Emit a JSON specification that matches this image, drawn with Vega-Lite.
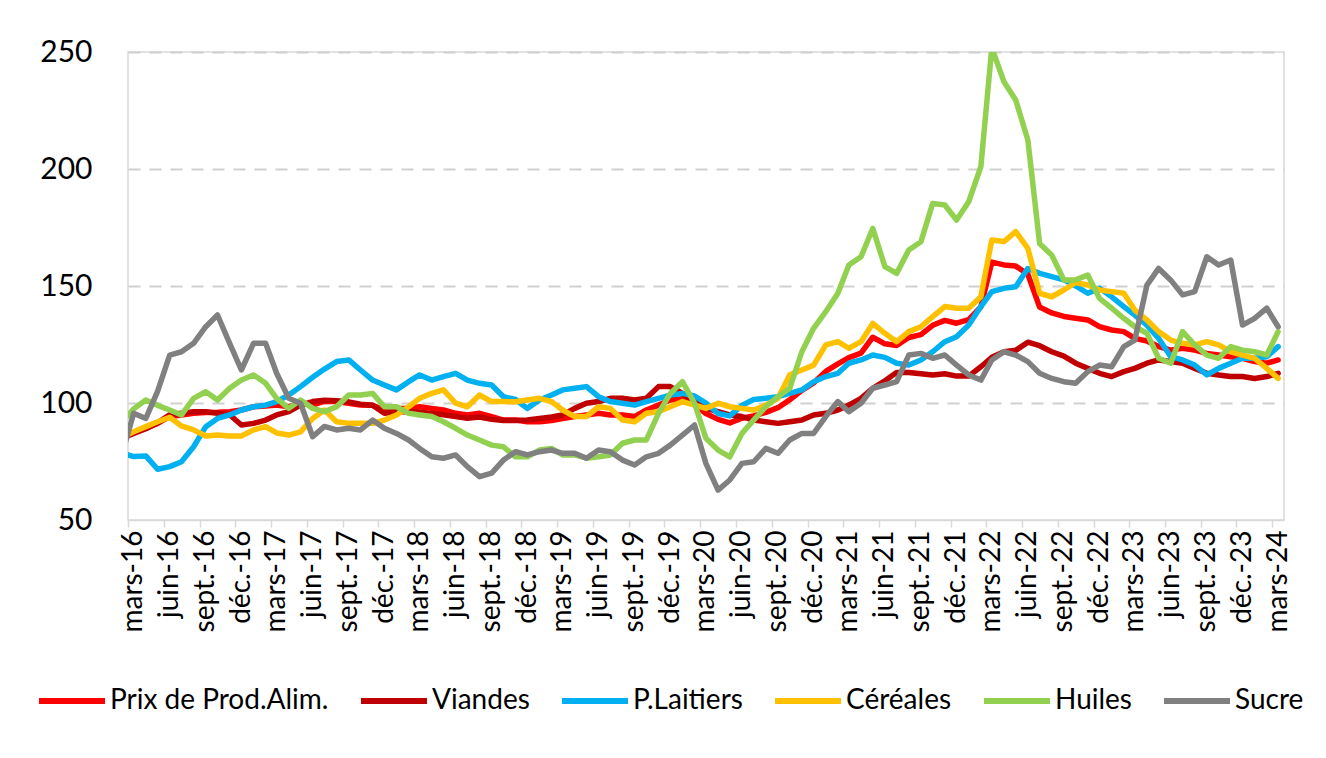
{
  "$schema": "https://vega.github.io/schema/vega-lite/v6.json",
  "width": 1156,
  "height": 468,
  "autosize": {"type": "none"},
  "padding": {"left": 128, "top": 52, "right": 42, "bottom": 238},
  "background": "white",
  "config": {
    "font": "Lato",
    "view": {"stroke": "#d9d9d9", "strokeWidth": 1.5},
    "axis": {"labelFont": "Lato", "labelColor": "#000000"},
    "legend": {"labelFont": "Lato"}
  },
  "data": {
    "values": [
      {"d": "2016-02-01", "prix": 85.3, "viandes": 85, "laitiers": 78.5, "cereales": 85.5, "huiles": 92, "sucre": 78.5},
      {"d": "2016-03-01", "prix": 87.3, "viandes": 87, "laitiers": 77.1, "cereales": 87.7, "huiles": 97.5, "sucre": 95.6},
      {"d": "2016-04-01", "prix": 89.2, "viandes": 89, "laitiers": 77.4, "cereales": 89.9, "huiles": 101.3, "sucre": 93.4},
      {"d": "2016-05-01", "prix": 91.3, "viandes": 91.5, "laitiers": 71.7, "cereales": 92, "huiles": 99, "sucre": 105},
      {"d": "2016-06-01", "prix": 94.2, "viandes": 95, "laitiers": 72.8, "cereales": 93.9, "huiles": 97, "sucre": 120.5},
      {"d": "2016-07-01", "prix": 94.9, "viandes": 95.6, "laitiers": 74.9, "cereales": 90.2, "huiles": 94.9, "sucre": 121.9},
      {"d": "2016-08-01", "prix": 95.6, "viandes": 96.3, "laitiers": 81.3, "cereales": 88.5, "huiles": 102, "sucre": 125.5},
      {"d": "2016-09-01", "prix": 95.9, "viandes": 96.3, "laitiers": 89.9, "cereales": 85.9, "huiles": 104.8, "sucre": 132.6},
      {"d": "2016-10-01", "prix": 96, "viandes": 95.6, "laitiers": 93.4, "cereales": 86.3, "huiles": 101.3, "sucre": 137.6},
      {"d": "2016-11-01", "prix": 96.3, "viandes": 95, "laitiers": 94.9, "cereales": 85.9, "huiles": 106.3, "sucre": 125.5},
      {"d": "2016-12-01", "prix": 97, "viandes": 90.6, "laitiers": 97, "cereales": 85.9, "huiles": 109.8, "sucre": 114.1},
      {"d": "2017-01-01", "prix": 98.4, "viandes": 91.3, "laitiers": 98.4, "cereales": 88.5, "huiles": 112, "sucre": 125.5},
      {"d": "2017-02-01", "prix": 98.7, "viandes": 92.7, "laitiers": 99.1, "cereales": 89.9, "huiles": 108.4, "sucre": 125.5},
      {"d": "2017-03-01", "prix": 99.1, "viandes": 94.9, "laitiers": 100.6, "cereales": 87.2, "huiles": 102, "sucre": 112.7},
      {"d": "2017-04-01", "prix": 98.4, "viandes": 96.3, "laitiers": 103.4, "cereales": 86.3, "huiles": 97.7, "sucre": 102},
      {"d": "2017-05-01", "prix": 99.9, "viandes": 99.1, "laitiers": 107, "cereales": 87.7, "huiles": 101.3, "sucre": 99.9},
      {"d": "2017-06-01", "prix": 99.1, "viandes": 100.6, "laitiers": 111, "cereales": 93.4, "huiles": 97.7, "sucre": 85.6},
      {"d": "2017-07-01", "prix": 100.8, "viandes": 101.2, "laitiers": 114.5, "cereales": 97, "huiles": 96.3, "sucre": 90},
      {"d": "2017-08-01", "prix": 100.6, "viandes": 101, "laitiers": 117.7, "cereales": 92, "huiles": 98.4, "sucre": 88.5},
      {"d": "2017-09-01", "prix": 99.9, "viandes": 100.5, "laitiers": 118.4, "cereales": 91.3, "huiles": 103.4, "sucre": 89.2},
      {"d": "2017-10-01", "prix": 99.1, "viandes": 99.5, "laitiers": 114.1, "cereales": 91.3, "huiles": 103.4, "sucre": 88.5},
      {"d": "2017-11-01", "prix": 99, "viandes": 99, "laitiers": 109.8, "cereales": 91.3, "huiles": 104.1, "sucre": 92.7},
      {"d": "2017-12-01", "prix": 97, "viandes": 95.6, "laitiers": 107.7, "cereales": 92.7, "huiles": 98.4, "sucre": 89.2},
      {"d": "2018-01-01", "prix": 97.7, "viandes": 96.3, "laitiers": 105.6, "cereales": 94.9, "huiles": 98.4, "sucre": 87},
      {"d": "2018-02-01", "prix": 97.7, "viandes": 96.3, "laitiers": 109.1, "cereales": 98.4, "huiles": 95.6, "sucre": 84.2},
      {"d": "2018-03-01", "prix": 98.4, "viandes": 96, "laitiers": 112, "cereales": 102, "huiles": 94.9, "sucre": 80.6},
      {"d": "2018-04-01", "prix": 97.7, "viandes": 95.5, "laitiers": 109.8, "cereales": 104.1, "huiles": 94.2, "sucre": 77},
      {"d": "2018-05-01", "prix": 97, "viandes": 95, "laitiers": 111.3, "cereales": 105.6, "huiles": 92, "sucre": 76.4},
      {"d": "2018-06-01", "prix": 95.6, "viandes": 94.2, "laitiers": 112.7, "cereales": 99.9, "huiles": 89.2, "sucre": 77.8},
      {"d": "2018-07-01", "prix": 94.9, "viandes": 93.5, "laitiers": 109.8, "cereales": 98.4, "huiles": 86.3, "sucre": 72.8},
      {"d": "2018-08-01", "prix": 95.6, "viandes": 94, "laitiers": 108.4, "cereales": 103.4, "huiles": 84.2, "sucre": 68.5},
      {"d": "2018-09-01", "prix": 94.2, "viandes": 93, "laitiers": 107.7, "cereales": 100.6, "huiles": 82, "sucre": 70},
      {"d": "2018-10-01", "prix": 92.7, "viandes": 92.5, "laitiers": 102.7, "cereales": 100.6, "huiles": 81.3, "sucre": 75.6},
      {"d": "2018-11-01", "prix": 92.7, "viandes": 92.5, "laitiers": 101.5, "cereales": 100.5, "huiles": 77, "sucre": 79.2},
      {"d": "2018-12-01", "prix": 92, "viandes": 92.7, "laitiers": 97.7, "cereales": 101.3, "huiles": 77, "sucre": 77.8},
      {"d": "2019-01-01", "prix": 92, "viandes": 93.4, "laitiers": 101.3, "cereales": 102, "huiles": 79.9, "sucre": 79.2},
      {"d": "2019-02-01", "prix": 92.5, "viandes": 94, "laitiers": 103.4, "cereales": 100.6, "huiles": 80.6, "sucre": 79.9},
      {"d": "2019-03-01", "prix": 93.4, "viandes": 94.9, "laitiers": 105.6, "cereales": 97, "huiles": 77.8, "sucre": 78.5},
      {"d": "2019-04-01", "prix": 94.2, "viandes": 97.7, "laitiers": 106.3, "cereales": 94.2, "huiles": 77.8, "sucre": 78.5},
      {"d": "2019-05-01", "prix": 94.9, "viandes": 99.9, "laitiers": 107, "cereales": 94.2, "huiles": 76.4, "sucre": 76.4},
      {"d": "2019-06-01", "prix": 95.6, "viandes": 100.6, "laitiers": 102.7, "cereales": 98.4, "huiles": 77, "sucre": 79.9},
      {"d": "2019-07-01", "prix": 94.9, "viandes": 102, "laitiers": 100.6, "cereales": 97.7, "huiles": 77.8, "sucre": 79.2},
      {"d": "2019-08-01", "prix": 94.9, "viandes": 102, "laitiers": 99.9, "cereales": 92.7, "huiles": 82.8, "sucre": 75.6},
      {"d": "2019-09-01", "prix": 94.2, "viandes": 101.3, "laitiers": 99.1, "cereales": 92, "huiles": 84.2, "sucre": 73.5},
      {"d": "2019-10-01", "prix": 97, "viandes": 102, "laitiers": 100.6, "cereales": 95.6, "huiles": 84.2, "sucre": 77},
      {"d": "2019-11-01", "prix": 99.1, "viandes": 107, "laitiers": 102, "cereales": 96.3, "huiles": 95.6, "sucre": 78.5},
      {"d": "2019-12-01", "prix": 101.3, "viandes": 107, "laitiers": 103.4, "cereales": 98.4, "huiles": 104.1, "sucre": 82},
      {"d": "2020-01-01", "prix": 101.8, "viandes": 104.1, "laitiers": 104.1, "cereales": 100.6, "huiles": 109.1, "sucre": 86.3},
      {"d": "2020-02-01", "prix": 99.4, "viandes": 100.6, "laitiers": 103, "cereales": 99.1, "huiles": 99.9, "sucre": 90.6},
      {"d": "2020-03-01", "prix": 95.5, "viandes": 97.7, "laitiers": 100, "cereales": 97.7, "huiles": 84.9, "sucre": 74.2},
      {"d": "2020-04-01", "prix": 93, "viandes": 96.3, "laitiers": 95.5, "cereales": 99.9, "huiles": 79.9, "sucre": 62.8},
      {"d": "2020-05-01", "prix": 91.5, "viandes": 94.9, "laitiers": 94.5, "cereales": 98.4, "huiles": 77, "sucre": 67.1},
      {"d": "2020-06-01", "prix": 93.5, "viandes": 94.2, "laitiers": 99, "cereales": 97.7, "huiles": 87, "sucre": 74.2},
      {"d": "2020-07-01", "prix": 94.5, "viandes": 92.7, "laitiers": 101.5, "cereales": 97, "huiles": 92.7, "sucre": 74.9},
      {"d": "2020-08-01", "prix": 96, "viandes": 92, "laitiers": 102, "cereales": 99.1, "huiles": 98.4, "sucre": 80.6},
      {"d": "2020-09-01", "prix": 98, "viandes": 91.3, "laitiers": 102.7, "cereales": 102, "huiles": 102.7, "sucre": 78.5},
      {"d": "2020-10-01", "prix": 101.4, "viandes": 92, "laitiers": 104.1, "cereales": 112, "huiles": 106.3, "sucre": 84.2},
      {"d": "2020-11-01", "prix": 105.4, "viandes": 92.7, "laitiers": 105.6, "cereales": 114.1, "huiles": 121.9, "sucre": 87},
      {"d": "2020-12-01", "prix": 108.6, "viandes": 94.9, "laitiers": 109.1, "cereales": 116.2, "huiles": 131.9, "sucre": 87},
      {"d": "2021-01-01", "prix": 113.5, "viandes": 95.6, "laitiers": 111.3, "cereales": 124.8, "huiles": 139, "sucre": 94.2},
      {"d": "2021-02-01", "prix": 116.7, "viandes": 97, "laitiers": 112.7, "cereales": 126.2, "huiles": 146.9, "sucre": 100.6},
      {"d": "2021-03-01", "prix": 119.4, "viandes": 99.1, "laitiers": 117, "cereales": 123.4, "huiles": 159, "sucre": 96.3},
      {"d": "2021-04-01", "prix": 121.3, "viandes": 102, "laitiers": 118.4, "cereales": 126.2, "huiles": 162.5, "sucre": 99.9},
      {"d": "2021-05-01", "prix": 128.1, "viandes": 106.3, "laitiers": 120.5, "cereales": 134, "huiles": 174.6, "sucre": 106.3},
      {"d": "2021-06-01", "prix": 125.3, "viandes": 109.5, "laitiers": 119.5, "cereales": 129.8, "huiles": 158.3, "sucre": 107.7},
      {"d": "2021-07-01", "prix": 124.6, "viandes": 113, "laitiers": 117, "cereales": 126.2, "huiles": 155.4, "sucre": 109.1},
      {"d": "2021-08-01", "prix": 128, "viandes": 113, "laitiers": 116.2, "cereales": 130.5, "huiles": 165.4, "sucre": 120.5},
      {"d": "2021-09-01", "prix": 129.2, "viandes": 112.5, "laitiers": 118.4, "cereales": 132.6, "huiles": 168.9, "sucre": 121.2},
      {"d": "2021-10-01", "prix": 133.2, "viandes": 112, "laitiers": 121.9, "cereales": 136.9, "huiles": 185.3, "sucre": 119.1},
      {"d": "2021-11-01", "prix": 135.3, "viandes": 112.5, "laitiers": 126.2, "cereales": 141.2, "huiles": 184.6, "sucre": 120.5},
      {"d": "2021-12-01", "prix": 134.1, "viandes": 111.5, "laitiers": 128.3, "cereales": 140.5, "huiles": 178.2, "sucre": 116.2},
      {"d": "2022-01-01", "prix": 135.6, "viandes": 111.5, "laitiers": 133.3, "cereales": 140.5, "huiles": 186, "sucre": 112},
      {"d": "2022-02-01", "prix": 141.1, "viandes": 115.5, "laitiers": 141.2, "cereales": 145.4, "huiles": 201, "sucre": 109.8},
      {"d": "2022-03-01", "prix": 160.2, "viandes": 119.5, "laitiers": 147.6, "cereales": 169.7, "huiles": 251.8, "sucre": 118.4},
      {"d": "2022-04-01", "prix": 159, "viandes": 121.9, "laitiers": 149, "cereales": 169, "huiles": 237.3, "sucre": 121.9},
      {"d": "2022-05-01", "prix": 158.5, "viandes": 122.5, "laitiers": 149.7, "cereales": 173.2, "huiles": 229.5, "sucre": 120.5},
      {"d": "2022-06-01", "prix": 155, "viandes": 126, "laitiers": 157.5, "cereales": 166.1, "huiles": 212.4, "sucre": 117.7},
      {"d": "2022-07-01", "prix": 141, "viandes": 124.5, "laitiers": 155.4, "cereales": 146.9, "huiles": 168.2, "sucre": 112.7},
      {"d": "2022-08-01", "prix": 138.5, "viandes": 121.9, "laitiers": 154, "cereales": 145.4, "huiles": 163.2, "sucre": 110.5},
      {"d": "2022-09-01", "prix": 137, "viandes": 120, "laitiers": 152.6, "cereales": 148.3, "huiles": 152.6, "sucre": 109.1},
      {"d": "2022-10-01", "prix": 136.2, "viandes": 117, "laitiers": 150, "cereales": 151.5, "huiles": 152.6, "sucre": 108.4},
      {"d": "2022-11-01", "prix": 135.5, "viandes": 114.8, "laitiers": 146.9, "cereales": 150.4, "huiles": 154.7, "sucre": 113.4},
      {"d": "2022-12-01", "prix": 132.6, "viandes": 112.7, "laitiers": 149, "cereales": 148.3, "huiles": 144.7, "sucre": 116.2},
      {"d": "2023-01-01", "prix": 131.2, "viandes": 111.3, "laitiers": 145.4, "cereales": 147.6, "huiles": 140.5, "sucre": 115.5},
      {"d": "2023-02-01", "prix": 130.5, "viandes": 113.4, "laitiers": 141.2, "cereales": 146.9, "huiles": 136.2, "sucre": 124.1},
      {"d": "2023-03-01", "prix": 127.6, "viandes": 114.8, "laitiers": 137.6, "cereales": 139.7, "huiles": 132.6, "sucre": 126.9},
      {"d": "2023-04-01", "prix": 126.5, "viandes": 117, "laitiers": 133.3, "cereales": 135.5, "huiles": 129.8, "sucre": 150.4},
      {"d": "2023-05-01", "prix": 124.1, "viandes": 118.4, "laitiers": 127.6, "cereales": 130.5, "huiles": 119.1, "sucre": 157.5},
      {"d": "2023-06-01", "prix": 122.6, "viandes": 117.7, "laitiers": 119.8, "cereales": 126.9, "huiles": 117, "sucre": 152.5},
      {"d": "2023-07-01", "prix": 123.4, "viandes": 117, "laitiers": 118.4, "cereales": 125.5, "huiles": 130.5, "sucre": 146.2},
      {"d": "2023-08-01", "prix": 122.6, "viandes": 114.8, "laitiers": 116.2, "cereales": 124.8, "huiles": 124.8, "sucre": 147.6},
      {"d": "2023-09-01", "prix": 121.2, "viandes": 112.7, "laitiers": 112, "cereales": 126.2, "huiles": 120.5, "sucre": 162.5},
      {"d": "2023-10-01", "prix": 120.5, "viandes": 112, "laitiers": 114.8, "cereales": 124.8, "huiles": 119.1, "sucre": 159},
      {"d": "2023-11-01", "prix": 119.8, "viandes": 111.3, "laitiers": 117, "cereales": 121.9, "huiles": 124.1, "sucre": 161.1},
      {"d": "2023-12-01", "prix": 119.1, "viandes": 111.3, "laitiers": 119.1, "cereales": 120.5, "huiles": 122.6, "sucre": 133.3},
      {"d": "2024-01-01", "prix": 117.7, "viandes": 110.5, "laitiers": 119.1, "cereales": 119.1, "huiles": 121.9, "sucre": 136.2},
      {"d": "2024-02-01", "prix": 117, "viandes": 111.3, "laitiers": 119.8, "cereales": 114.8, "huiles": 120.5, "sucre": 140.5},
      {"d": "2024-03-01", "prix": 118.4, "viandes": 112.7, "laitiers": 124.1, "cereales": 110.5, "huiles": 130.5, "sucre": 132.6}
    ]
  },
  "transform": [
    {"fold": ["prix", "viandes", "laitiers", "cereales", "huiles", "sucre"], "as": ["serie", "indice"]}
  ],
  "mark": {"type": "line", "strokeWidth": 5.5, "clip": true, "strokeJoin": "round", "strokeCap": "round"},
  "encoding": {
    "x": {
      "field": "d",
      "type": "temporal",
      "scale": {
        "type": "utc",
        "domain": [
          {"year": 2016, "month": 2, "date": 15, "hours": 12, "utc": true},
          {"year": 2024, "month": 3, "date": 16, "utc": true}
        ]
      },
      "axis": {
        "title": null,
        "grid": false,
        "values": [
          {"year": 2016, "month": 3, "date": 1, "utc": true}, {"year": 2016, "month": 6, "date": 1, "utc": true}, {"year": 2016, "month": 9, "date": 1, "utc": true}, {"year": 2016, "month": 12, "date": 1, "utc": true},
          {"year": 2017, "month": 3, "date": 1, "utc": true}, {"year": 2017, "month": 6, "date": 1, "utc": true}, {"year": 2017, "month": 9, "date": 1, "utc": true}, {"year": 2017, "month": 12, "date": 1, "utc": true},
          {"year": 2018, "month": 3, "date": 1, "utc": true}, {"year": 2018, "month": 6, "date": 1, "utc": true}, {"year": 2018, "month": 9, "date": 1, "utc": true}, {"year": 2018, "month": 12, "date": 1, "utc": true},
          {"year": 2019, "month": 3, "date": 1, "utc": true}, {"year": 2019, "month": 6, "date": 1, "utc": true}, {"year": 2019, "month": 9, "date": 1, "utc": true}, {"year": 2019, "month": 12, "date": 1, "utc": true},
          {"year": 2020, "month": 3, "date": 1, "utc": true}, {"year": 2020, "month": 6, "date": 1, "utc": true}, {"year": 2020, "month": 9, "date": 1, "utc": true}, {"year": 2020, "month": 12, "date": 1, "utc": true},
          {"year": 2021, "month": 3, "date": 1, "utc": true}, {"year": 2021, "month": 6, "date": 1, "utc": true}, {"year": 2021, "month": 9, "date": 1, "utc": true}, {"year": 2021, "month": 12, "date": 1, "utc": true},
          {"year": 2022, "month": 3, "date": 1, "utc": true}, {"year": 2022, "month": 6, "date": 1, "utc": true}, {"year": 2022, "month": 9, "date": 1, "utc": true}, {"year": 2022, "month": 12, "date": 1, "utc": true},
          {"year": 2023, "month": 3, "date": 1, "utc": true}, {"year": 2023, "month": 6, "date": 1, "utc": true}, {"year": 2023, "month": 9, "date": 1, "utc": true}, {"year": 2023, "month": 12, "date": 1, "utc": true},
          {"year": 2024, "month": 3, "date": 1, "utc": true}
        ],
        "labelExpr": "['janv.','févr.','mars','avr.','mai','juin','juil.','août','sept.','oct.','nov.','déc.'][utcmonth(datum.value)] + '-' + utcFormat(datum.value, '%y')",
        "labelAngle": 270,
        "labelFontSize": 28,
        "labelPadding": 3,
        "labelOverlap": false,
        "labelFlush": false,
        "tickSize": 7,
        "tickColor": "#d9d9d9",
        "tickWidth": 1.5,
        "tickOffset": -6,
        "labelOffset": 6,
        "domainColor": "#d9d9d9",
        "domainWidth": 1.5
      }
    },
    "y": {
      "field": "indice",
      "type": "quantitative",
      "scale": {"domain": [50, 250], "nice": false, "zero": false},
      "axis": {
        "title": null,
        "values": [50, 100, 150, 200, 250],
        "ticks": false,
        "domain": false,
        "labelFontSize": 30,
        "labelPadding": 36,
        "gridColor": "#d0d0d0",
        "gridDash": [12, 9],
        "gridWidth": 2,
        "gridOpacity": {"condition": {"test": "datum.value === 50", "value": 0}, "value": 1}
      }
    },
    "color": {
      "field": "serie",
      "type": "nominal",
      "scale": {
        "domain": ["prix", "viandes", "laitiers", "cereales", "huiles", "sucre"],
        "range": ["#FF0000", "#C00000", "#00B0F0", "#FFC000", "#92D050", "#808080"]
      },
      "legend": {
        "title": null,
        "orient": "none",
        "legendX": -92,
        "legendY": 613,
        "direction": "horizontal",
        "padding": 0,
        "symbolType": "stroke",
        "symbolSize": 4356,
        "symbolStrokeWidth": 6,
        "labelFontSize": 28,
        "labelColor": "#000000",
        "labelOffset": 2,
        "labelLimit": 400,
        "columnPadding": 20,
        "labelExpr": "datum.label == 'prix' ? 'Prix de Prod.Alim.' : datum.label == 'viandes' ? 'Viandes' : datum.label == 'laitiers' ? 'P.Laitiers' : datum.label == 'cereales' ? 'Céréales' : datum.label == 'huiles' ? 'Huiles' : 'Sucre'"
      }
    }
  }
}
